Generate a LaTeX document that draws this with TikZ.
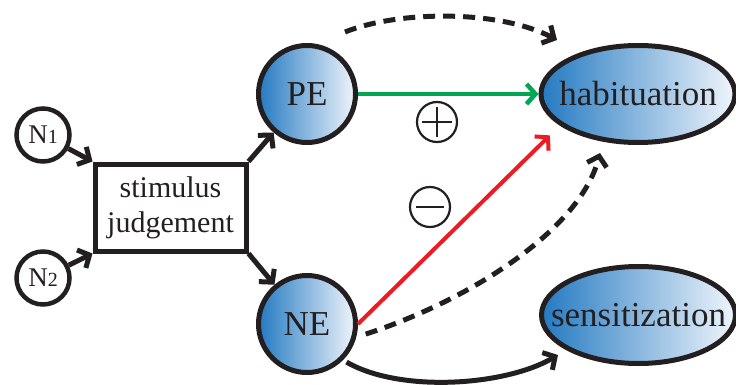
\documentclass[tikz,border=0pt]{standalone}
\usepackage{fontspec}
\setmainfont{Liberation Serif}
\usetikzlibrary{arrows.meta,shapes.geometric}
\definecolor{ink}{RGB}{35,31,32}
\definecolor{shadeL}{RGB}{36,122,194}
\definecolor{shadeR}{RGB}{240,245,251}
\definecolor{posgreen}{RGB}{0,166,81}
\definecolor{negred}{RGB}{237,28,36}
\begin{document}
\begin{tikzpicture}[x=1pt,y=-1pt,
  text=ink,
  bigfont/.style={font=\fontsize{35}{36}\selectfont},
  barb/.style={-{Straight Barb[length=9pt,width=20pt]}},
  link/.style={draw=ink, line width=5pt, barb},
  dashlink/.style={link, dash pattern=on 12pt off 8pt},
  input/.style={circle, draw=ink, line width=4.5pt, minimum size=53pt, inner sep=0pt},
  state/.style={circle, draw=ink, line width=5pt, minimum size=97pt, inner sep=0pt,
    left color=shadeL, right color=shadeR, bigfont},
  effect/.style={ellipse, draw=ink, line width=5pt, minimum width=194pt, minimum height=97pt,
    inner sep=0pt, left color=shadeL, right color=shadeR},
  sign/.style={circle, draw=ink, line width=2.2pt, minimum size=40pt, inner sep=0pt}]
\useasboundingbox (0,0) rectangle (736,385);

% input neurons
\node[input] (N1) at (43,135) {\fontsize{27}{27}\selectfont N\fontsize{20}{20}\selectfont 1};
\node[input] (N2) at (43,278) {\fontsize{27}{27}\selectfont N\fontsize{20}{20}\selectfont 2};

% judgement box
\node[draw=ink, line width=5pt, minimum width=151pt, minimum height=87pt, inner sep=0pt,
  align=center, font=\fontsize{30}{35}\selectfont] (judge) at (170.5,207.5) {stimulus\\judgement};

% prediction-error states
\node[state] (PE) at (307,94) {PE};
\node[state] (NE) at (307,324) {NE};

% outcomes
\node[effect, label={[bigfont, text=ink]center:habituation}] (hab) at (638,94) {};
\node[effect, label={[bigfont, text=ink]center:sensitization}] (sens) at (638.5,315) {};

% signs
\node[sign] (plus) at (437,122) {};
\draw[ink, line width=2.2pt] ([xshift=-15pt]plus.center) -- ([xshift=15pt]plus.center)
  ([yshift=-15pt]plus.center) -- ([yshift=15pt]plus.center);
\node[sign] (minus) at (430,207) {};
\draw[ink, line width=2.2pt] ([xshift=-14pt]minus.center) -- ([xshift=14pt]minus.center);

% free ends of the curved links
\coordinate (topA) at (345,32);
\coordinate (topB) at (557,40);
\coordinate (habLow) at (600,153);
\coordinate (sensIn) at (558,355);

% connections
\draw[link] (N1) -- (judge.north west);
\draw[link] (N2) -- (judge.south west);
\draw[link] (judge.north east) -- (PE);
\draw[link] (judge.south east) -- (NE);

\draw[posgreen, line width=4.5pt, barb] (PE) -- (hab);
\draw[negred, line width=4pt, barb, shorten >=14pt] (NE.east) -- (hab.202);

\draw[dashlink] (topA) .. controls (400,10) and (500,10) .. (topB);
\draw[dashlink, shorten <=10pt] (NE.-15) .. controls (470,300) and (580,230) .. (habLow);
\draw[link, shorten <=4pt] (NE.-45) .. controls (400,393) and (505,386) .. (sensIn);
\end{tikzpicture}
\end{document}
